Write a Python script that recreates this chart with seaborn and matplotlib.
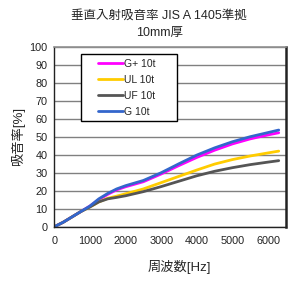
import numpy as np
import pandas as pd
import matplotlib
matplotlib.use("Agg")
import matplotlib.pyplot as plt
import seaborn as sns
from matplotlib.lines import Line2D
from matplotlib.legend_handler import HandlerLine2D

freq = [50, 250, 500, 750, 1000, 1250, 1500, 1750, 2000, 2500, 3000, 3500, 4000, 4500, 5000, 5500, 6000, 6300]
g_plus = [0.5, 2.5, 5.5, 8.5, 11.5, 15.0, 18.0, 20.5, 22.2, 25.0, 29.3, 34.0, 38.5, 42.5, 46.0, 48.8, 51.0, 52.2]
ul = [0.5, 2.5, 5.5, 8.5, 11.0, 13.8, 15.8, 17.0, 18.3, 21.0, 24.5, 28.0, 31.5, 34.8, 37.3, 39.3, 41.0, 42.0]
uf = [0.5, 2.5, 5.5, 8.5, 11.0, 13.8, 15.5, 16.3, 17.2, 19.5, 22.3, 25.3, 28.3, 30.8, 32.8, 34.5, 35.9, 36.7]
g = [0.5, 2.5, 5.5, 8.5, 11.5, 15.5, 18.5, 21.0, 22.8, 25.7, 30.0, 35.0, 39.8, 43.8, 47.2, 50.0, 52.3, 53.7]

series_names = ["G+ 10t", "UL 10t", "UF 10t", "G 10t"]
colors = ["#ff00ff", "#ffcc00", "#555555", "#3366cc"]

title_line1 = "垂直入射吸音率 JIS A 1405準拠"
title_line2 = "10mm厚"
xlabel = "周波数[Hz]"
ylabel = "吸音率[%]"

rows = []
for name, vals in zip(series_names, [g_plus, ul, uf, g]):
    for f, v in zip(freq, vals):
        rows.append({"freq": f, "value": v, "series": name})
df = pd.DataFrame(rows)

sns.set_style("white")
plt.rcParams['font.family'] = ['Liberation Sans', 'Noto Sans CJK JP', 'DejaVu Sans']

fig = plt.figure(figsize=(2.95, 2.81), dpi=100)
ax = fig.add_axes([0.184, 0.193, 0.785, 0.641])

sns.lineplot(data=df, x="freq", y="value", hue="series", hue_order=series_names,
             palette=colors, linewidth=2.0, ax=ax, legend=False)

ax.set_xlim(0, 6500)
ax.set_ylim(0, 100)
ax.set_xticks(range(0, 7000, 1000))
ax.set_yticks(range(0, 101, 10))
ax.yaxis.grid(True, color="#808080", linewidth=1.0)
ax.set_axisbelow(True)
ax.tick_params(axis="x", direction="in", length=3, labelsize=7.8, pad=7, colors="black")
ax.tick_params(axis="y", direction="out", length=3, labelsize=7.8, pad=2, colors="black")
for lab in ax.get_xticklabels() + ax.get_yticklabels():
    lab.set_color("#222222")

for side in ["left", "bottom", "right"]:
    ax.spines[side].set_visible(True)
    ax.spines[side].set_color("#222222")
ax.spines["left"].set_linewidth(1.0)
ax.spines["bottom"].set_linewidth(1.0)
ax.spines["right"].set_linewidth(1.8)
ax.spines["top"].set_visible(True)
ax.spines["top"].set_color("#909090")
ax.spines["top"].set_linewidth(1.2)

ax.set_xlabel(xlabel, fontsize=9.5)
ax.xaxis.set_label_coords(0.54, -0.185)
ax.set_ylabel(ylabel, fontsize=9.5)
ax.yaxis.set_label_coords(-0.128, 0.5)
fig.text(0.54, 0.943, title_line1, fontsize=9, ha="center", va="center")
fig.text(0.54, 0.883, title_line2, fontsize=9, ha="center", va="center")

handles = [Line2D([0], [0], color=c, lw=2.0) for c in colors]
leg = ax.legend(handles, series_names, loc="upper left",
                bbox_to_anchor=(0.115, 0.587, 0.415, 0.372), mode="expand",
                frameon=True, fontsize=7.5, handlelength=3.55, handletextpad=0.1,
                labelspacing=0.57, borderpad=0.45, borderaxespad=0, fancybox=False,
                handler_map={Line2D: HandlerLine2D(xpad=1.15)})
leg.get_frame().set_edgecolor("black")
leg.get_frame().set_linewidth(1.0)
leg.get_frame().set_alpha(1)

fig.savefig("out.png", dpi=100, facecolor="white")
